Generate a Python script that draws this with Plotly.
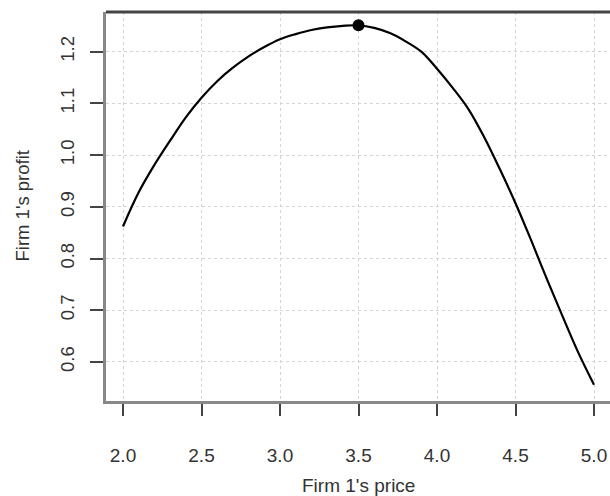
import plotly.graph_objects as go

# Data
price = [2.0, 2.1, 2.2, 2.3, 2.4, 2.5, 2.6, 2.7, 2.8, 2.9,
         3.0, 3.1, 3.2, 3.3, 3.4, 3.5, 3.6, 3.7, 3.8, 3.9,
         4.0, 4.1, 4.2, 4.3, 4.4, 4.5, 4.6, 4.7, 4.8, 4.9, 5.0]
profit = [0.862, 0.928, 0.981, 1.028, 1.073, 1.111, 1.143, 1.169, 1.191, 1.209,
          1.224, 1.234, 1.242, 1.247, 1.250, 1.251, 1.246, 1.236, 1.220, 1.200,
          1.167, 1.130, 1.089, 1.035, 0.973, 0.907, 0.835, 0.760, 0.688, 0.618, 0.556]
opt_price = [3.5]
opt_profit = [1.251]

x_ticks = [2.0, 2.5, 3.0, 3.5, 4.0, 4.5, 5.0]
x_tick_labels = ["2.0", "2.5", "3.0", "3.5", "4.0", "4.5", "5.0"]
y_ticks = [0.6, 0.7, 0.8, 0.9, 1.0, 1.1, 1.2]
y_tick_labels = ["0.6", "0.7", "0.8", "0.9", "1.0", "1.1", "1.2"]

fig = go.Figure()
fig.add_trace(go.Scatter(x=price, y=profit, mode="lines",
                         line=dict(color="black", width=2.2, shape="spline"),
                         showlegend=False, hoverinfo="skip"))
fig.add_trace(go.Scatter(x=opt_price, y=opt_profit, mode="markers",
                         marker=dict(color="black", size=12),
                         showlegend=False))

font_family = "Liberation Sans, Arial, sans-serif"
txt_col = "#333333"

fig.update_layout(
    width=610, height=496,
    margin=dict(l=106, r=0, t=12, b=95),
    paper_bgcolor="white", plot_bgcolor="white",
    font=dict(family=font_family, color=txt_col, size=19),
    xaxis=dict(range=[1.8917, 5.1019], tickvals=x_ticks, ticktext=x_tick_labels,
               showgrid=True, gridcolor="#d4d4d4", griddash="dot", gridwidth=1,
               ticks="outside", ticklen=12, tickwidth=1.5, tickcolor="#444",
               showline=True, linecolor="#888888", linewidth=2.5,
               zeroline=False, ticklabelstandoff=23, automargin=False,
               tickfont=dict(size=19, color=txt_col)),
    yaxis=dict(range=[0.5244, 1.2768], tickvals=y_ticks, ticktext=y_tick_labels,
               showgrid=True, gridcolor="#d4d4d4", griddash="dot", gridwidth=1,
               ticks="outside", ticklen=13, tickwidth=1.5, tickcolor="#444",
               showline=True, linecolor="#888888", linewidth=2.5,
               zeroline=False, tickangle=-90, ticklabelstandoff=9, automargin=False,
               tickfont=dict(size=18.5, color=txt_col)),
    shapes=[dict(type="line", xref="paper", yref="paper", x0=0, x1=1, y0=1, y1=1,
                 line=dict(color="#444444", width=3))],
    annotations=[
        dict(text="Firm 1's price", xref="paper", yref="paper", x=0.5, y=0,
             yshift=-84, xanchor="center", yanchor="middle", showarrow=False,
             font=dict(size=19, color=txt_col)),
        dict(text="Firm 1's profit", xref="paper", yref="paper", x=0, y=0.5,
             xshift=-84, xanchor="center", yanchor="middle", textangle=-90,
             showarrow=False, font=dict(size=18.5, color=txt_col)),
    ],
)

fig.write_html("out.html", config={"displayModeBar": False},
               post_script="document.body.style.margin='0';document.body.style.overflow='hidden';")
